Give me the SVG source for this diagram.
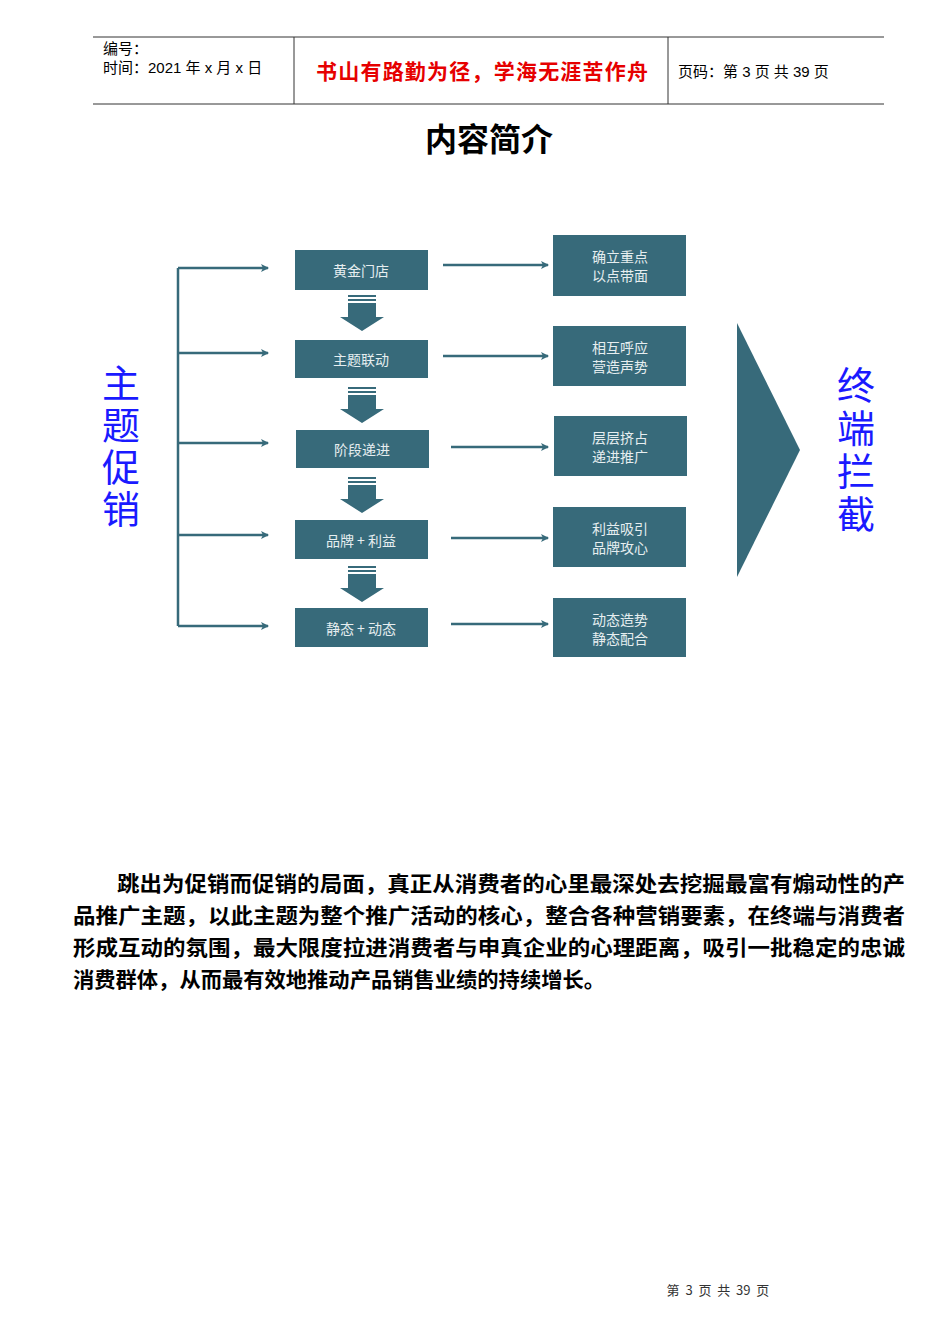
<svg xmlns="http://www.w3.org/2000/svg" width="950" height="1344" viewBox="0 0 950 1344">
<style>
.b{fill:#376a7a}
.bt{font-family:"Noto Sans CJK SC",serif;font-size:14px;fill:#e6eef0;text-anchor:middle}
.ln{stroke:#376a7a;stroke-width:2.5;fill:none}
.hd{font-family:"Liberation Sans","Noto Sans CJK SC",sans-serif;font-size:15px;fill:#000}
.big{font-family:"Noto Sans CJK SC",serif;font-size:38px;fill:#1a1aff;text-anchor:middle}
.p{font-family:"Noto Sans CJK SC",sans-serif;font-size:21px;font-weight:bold;fill:#000}
</style>
<defs>
<marker id="ah" markerWidth="8" markerHeight="8" refX="7" refY="4" orient="auto" markerUnits="userSpaceOnUse"><path d="M0,0 L8,4 L0,8 L2,4Z" fill="#376a7a"/></marker>
<g id="da"><rect x="-14" y="0" width="28" height="2" class="b"/><rect x="-14" y="4" width="28" height="2" class="b"/><path d="M-14,8 H14 V22 H22 L0,36 L-22,22 H-14Z" class="b"/></g>
</defs>
<rect width="950" height="1344" fill="#fff"/>
<g id="header">
<line x1="93" y1="37" x2="884" y2="37" stroke="#333"/>
<line x1="93" y1="104" x2="884" y2="104" stroke="#333"/>
<line x1="294" y1="37" x2="294" y2="104" stroke="#333"/>
<line x1="668" y1="37" x2="668" y2="104" stroke="#333"/>
<text x="103" y="54" class="hd">编号：</text>
<text x="103" y="73" class="hd">时间：2021 年 x 月 x 日</text>
<text x="482" y="79" font-family="Noto Sans CJK SC,sans-serif" font-size="21" font-weight="bold" fill="#e60000" text-anchor="middle" textLength="332">书山有路勤为径，学海无涯苦作舟</text>
<text x="678" y="77" class="hd">页码：第 3 页  共 39 页</text>
</g>
<text x="489" y="151" font-family="Noto Sans CJK SC,sans-serif" font-size="32" font-weight="bold" text-anchor="middle">内容简介</text>
<g id="connectors">
<path class="ln" d="M178,268 V626"/>
<path class="ln" d="M178,268 H268" marker-end="url(#ah)"/>
<path class="ln" d="M178,353 H268" marker-end="url(#ah)"/>
<path class="ln" d="M178,443 H268" marker-end="url(#ah)"/>
<path class="ln" d="M178,535 H268" marker-end="url(#ah)"/>
<path class="ln" d="M178,626 H268" marker-end="url(#ah)"/>
<path class="ln" d="M443,265 H548" marker-end="url(#ah)"/>
<path class="ln" d="M443,356 H548" marker-end="url(#ah)"/>
<path class="ln" d="M451,447 H548" marker-end="url(#ah)"/>
<path class="ln" d="M451,538 H548" marker-end="url(#ah)"/>
<path class="ln" d="M451,624 H548" marker-end="url(#ah)"/>
<use href="#da" x="362" y="295"/>
<use href="#da" x="362" y="387"/>
<use href="#da" x="362" y="477"/>
<use href="#da" x="362" y="566"/>
</g>
<g id="n1"><rect x="295" y="250" width="133" height="40" class="b"/><text x="361" y="276" class="bt">黄金门店</text></g>
<g id="n2"><rect x="295" y="340" width="133" height="38" class="b"/><text x="361" y="365" class="bt">主题联动</text></g>
<g id="n3"><rect x="296" y="430" width="133" height="38" class="b"/><text x="362" y="455" class="bt">阶段递进</text></g>
<g id="n4"><rect x="295" y="520" width="133" height="39" class="b"/><text x="361" y="546" class="bt">品牌 + 利益</text></g>
<g id="n5"><rect x="295" y="608" width="133" height="39" class="b"/><text x="361" y="634" class="bt">静态 + 动态</text></g>
<g id="r1"><rect x="553" y="235" width="133" height="61" class="b"/><text x="620" y="262" class="bt">确立重点</text><text x="620" y="281" class="bt">以点带面</text></g>
<g id="r2"><rect x="553" y="326" width="133" height="60" class="b"/><text x="620" y="353" class="bt">相互呼应</text><text x="620" y="372" class="bt">营造声势</text></g>
<g id="r3"><rect x="554" y="416" width="133" height="60" class="b"/><text x="620" y="443" class="bt">层层挤占</text><text x="620" y="462" class="bt">递进推广</text></g>
<g id="r4"><rect x="553" y="507" width="133" height="60" class="b"/><text x="620" y="534" class="bt">利益吸引</text><text x="620" y="553" class="bt">品牌攻心</text></g>
<g id="r5"><rect x="553" y="598" width="133" height="59" class="b"/><text x="620" y="625" class="bt">动态造势</text><text x="620" y="644" class="bt">静态配合</text></g>
<g id="tri"><path d="M737,323 L800,450 L737,577Z" class="b"/></g>
<g id="left"><text x="121" y="397" class="big">主</text><text x="121" y="439" class="big">题</text><text x="121" y="481" class="big">促</text><text x="121" y="523" class="big">销</text></g>
<g id="right"><text x="856" y="399" class="big">终</text><text x="856" y="442" class="big">端</text><text x="856" y="485" class="big">拦</text><text x="856" y="528" class="big">截</text></g>
<text x="117" y="891" class="p" textLength="788" lengthAdjust="spacingAndGlyphs">跳出为促销而促销的局面，真正从消费者的心里最深处去挖掘最富有煽动性的产</text>
<text x="73" y="923" class="p" textLength="832" lengthAdjust="spacingAndGlyphs">品推广主题，以此主题为整个推广活动的核心，整合各种营销要素，在终端与消费者</text>
<text x="73" y="955" class="p" textLength="832" lengthAdjust="spacingAndGlyphs">形成互动的氛围，最大限度拉进消费者与申真企业的心理距离，吸引一批稳定的忠诚</text>
<text x="73" y="987" class="p" textLength="532" lengthAdjust="spacingAndGlyphs">消费群体，从而最有效地推动产品销售业绩的持续增长。</text>
<text x="718" y="1295" font-family="Noto Sans CJK SC,sans-serif" font-size="13" fill="#333" text-anchor="middle" xml:space="preserve">第  3  页  共  39  页</text>
</svg>
